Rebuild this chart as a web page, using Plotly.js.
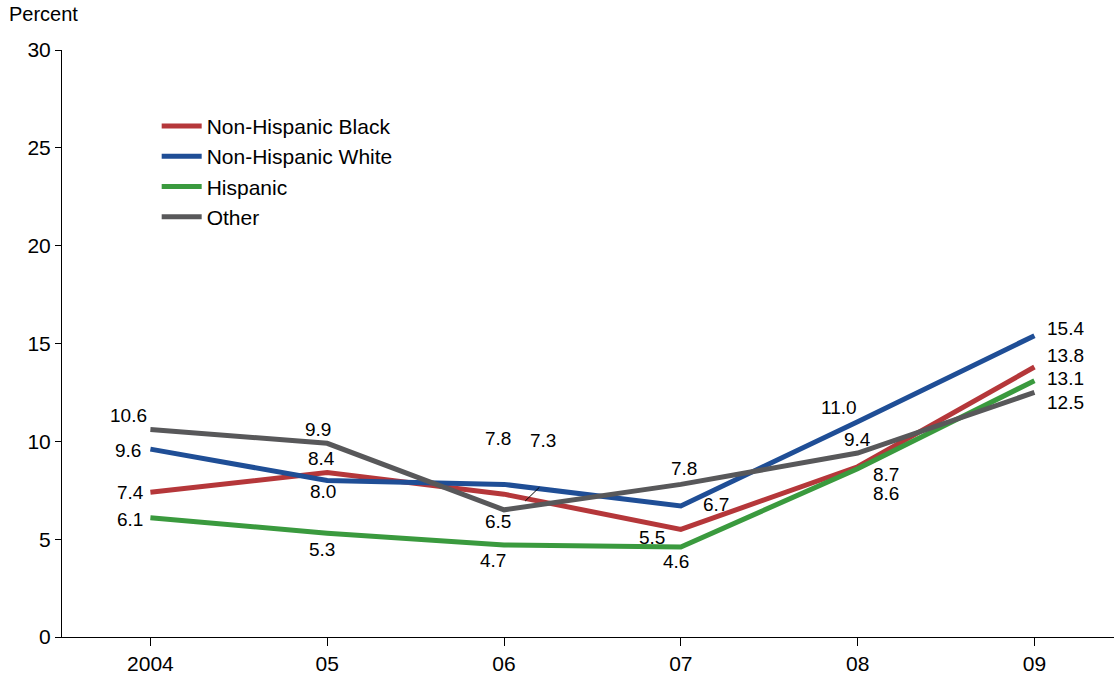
<!DOCTYPE html>
<html><head><meta charset="utf-8">
<script src="https://cdn.plot.ly/plotly-3.0.1.min.js"></script>
<style>body{margin:0}</style></head>
<body><div id="c" style="width:1114px;height:683px"></div>
<script>
const years = ["2004","05","06","07","08","09"];
const black = [7.4, 8.4, 7.3, 5.5, 8.7, 13.8];
const white = [9.6, 8.0, 7.8, 6.7, 11.0, 15.4];
const hispanic = [6.1, 5.3, 4.7, 4.6, 8.6, 13.1];
const other = [10.6, 9.9, 6.5, 7.8, 9.4, 12.5];
const names = ["Non-Hispanic Black","Non-Hispanic White","Hispanic","Other"];
const colors = ["#b5373a","#1f4e96","#3a9a3e","#58585a"];
const series = [black, white, hispanic, other];
// label offsets in pixels [dx, dy]
const offs = [
 [[-20,0],[-6,14],[39,54],[-29,-8],[28,-8],[31,11]],
 [[-22,-1],[-4,-11],[-6,46],[35,1],[-19,14],[31,7]],
 [[-20,-2],[-5,-16],[-11,-15],[-5,-15],[28,-25],[31,2]],
 [[-22,14],[-9,14],[-6,-12],[3,16],[0,14],[31,-10]]
];
const x = years.map((_,i)=>i);
const traces = series.map((s,k)=>({x:x,y:s,name:names[k],mode:"lines",
  line:{color:colors[k],width:5}}));
const ann = [];
series.forEach((s,k)=>s.forEach((v,i)=>ann.push({x:i,y:v,text:v.toFixed(1),showarrow:false,
  xshift:offs[k][i][0],yshift:offs[k][i][1],font:{size:19,color:"#000"}})));
Plotly.newPlot("c",traces,{
  width:1114,height:683,margin:{l:62,r:0,t:50,b:46},
  font:{family:"Liberation Sans, Arial",size:21,color:"#000"},
  paper_bgcolor:"#fff",plot_bgcolor:"#fff",
  xaxis:{range:[-0.5,5.45],tickvals:x,ticktext:years,showgrid:false,zeroline:false,
    showline:true,linecolor:"#000",linewidth:1,ticks:"outside",ticklen:8,tickcolor:"#000",
    tickfont:{size:21}},
  yaxis:{range:[0,30],dtick:5,showgrid:false,zeroline:false,showline:true,linecolor:"#000",
    linewidth:1,ticks:"outside",ticklen:6,tickcolor:"#000",tickfont:{size:21}},
  legend:{x:0.09,y:0.905,xanchor:"left",yanchor:"top",font:{size:21},tracegroupgap:0,
    itemwidth:40,bgcolor:"rgba(0,0,0,0)"},
  showlegend:true,
  annotations:ann.concat([{xref:"paper",yref:"paper",x:-0.052,y:1.04,xanchor:"left",
    yanchor:"bottom",text:"Percent",showarrow:false,font:{size:20}}]),
  shapes:[{type:"line",x0:2.12,y0:6.95,x1:2.2,y1:7.65,line:{color:"#000",width:1}}]
},{displayModeBar:false});
</script></body></html>
